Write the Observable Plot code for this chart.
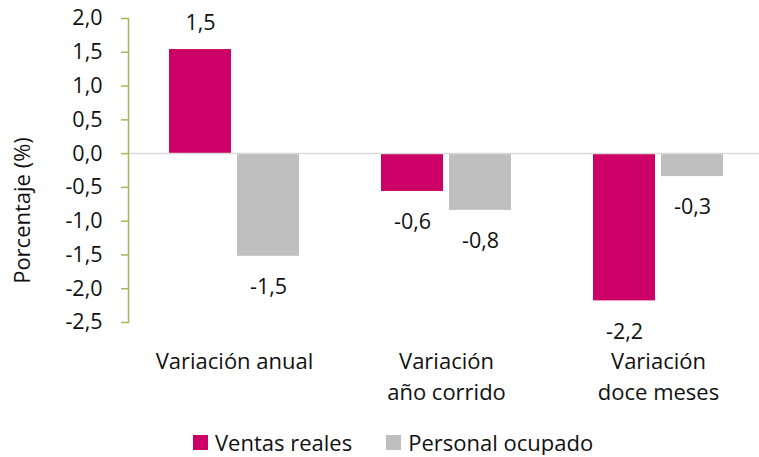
<!DOCTYPE html>
<html>
<head>
<meta charset="utf-8">
<script src="https://cdn.jsdelivr.net/npm/d3@7"></script>
<script src="https://cdn.jsdelivr.net/npm/@observablehq/plot@0.6"></script>
<style>
  html, body { margin: 0; padding: 0; background: #fff; overflow: hidden; }
  #chart svg { display: block; }
  .legend { display: flex; align-items: center; margin-left: 193px; margin-top: 9px;
            font-family: "Open Sans", sans-serif; font-size: 22px; color: #111; line-height: 26px; }
  .legend .item { display: flex; align-items: center; margin-right: 34px; }
  .legend .sw { width: 15px; height: 15px; margin-right: 7px; }
</style>
</head>
<body>
<div id="chart"></div>
<script>
const categories = ["Variación anual", "Variación año corrido", "Variación doce meses"];
const categoryLines = ["Variación anual", "Variación\naño corrido", "Variación\ndoce meses"];
const series = ["Ventas reales", "Personal ocupado"];
const colors = ["#cc0066", "#bfbfbf"];
const ventas = [1.54, -0.56, -2.18];
const personal = [-1.52, -0.84, -0.34];
const yTicks = [2.0, 1.5, 1.0, 0.5, 0.0, -0.5, -1.0, -1.5, -2.0, -2.5];

const data = categories.flatMap((c, i) => [
  {cat: c, series: series[0], value: ventas[i]},
  {cat: c, series: series[1], value: personal[i]}
]);
const fmt = v => v.toFixed(1).replace(".", ",");
const font = "Open Sans, sans-serif";

const chart = Plot.plot({
  width: 759,
  height: 420,
  marginTop: 18,
  marginBottom: 98,
  marginLeft: 127,
  marginRight: 0,
  style: {fontFamily: font, fontSize: "22px", color: "#111", background: "#fff"},
  fx: {domain: categories, range: [127.5, 764], paddingInner: 0, paddingOuter: 0, axis: null},
  x: {domain: series, paddingInner: 0.083, paddingOuter: 0.59, axis: null},
  y: {domain: [-2.5, 2], axis: null},
  color: {domain: series, range: colors},
  marks: [
    Plot.barY(data, {fx: "cat", x: "series", y: "value", fill: "series"}),
    Plot.ruleY([0], {stroke: "#d9d9d9", strokeWidth: 1.5}),
    Plot.frame({anchor: "left", stroke: "#9bbb59", strokeWidth: 1.5, facetAnchor: "left"}),
    Plot.axisY({ticks: yTicks, tickFormat: fmt, tickSize: 7, tickPadding: 19,
                stroke: "#9bbb59", strokeWidth: 1.5, fill: "#111", fontSize: 21.5, label: null}),
    Plot.text(data.filter(d => d.value >= 0), {fx: "cat", x: "series", y: "value",
                text: d => fmt(d.value), dy: -26, fontSize: 21.5}),
    Plot.text(data.filter(d => d.value < 0), {fx: "cat", x: "series", y: "value",
                text: d => fmt(d.value), dy: 31, fontSize: 21.5}),
    Plot.text(categories, {fx: d => d, text: (d, i) => categoryLines[i], frameAnchor: "bottom",
                lineAnchor: "top", dy: 24, lineHeight: 1.42, fontSize: 22}),
    Plot.text(["Porcentaje (%)"], {fx: () => categories[0], frameAnchor: "left", rotate: -90,
                textAnchor: "middle", dx: -105.5, dy: 40, fontSize: 22, text: d => d})
  ]
});
document.getElementById("chart").appendChild(chart);

const legend = document.createElement("div");
legend.className = "legend";
series.forEach((s, i) => {
  const item = document.createElement("div");
  item.className = "item";
  const sw = document.createElement("div");
  sw.className = "sw";
  sw.style.background = colors[i];
  const label = document.createElement("span");
  label.textContent = s;
  item.appendChild(sw);
  item.appendChild(label);
  legend.appendChild(item);
});
document.body.appendChild(legend);
</script>
</body>
</html>
